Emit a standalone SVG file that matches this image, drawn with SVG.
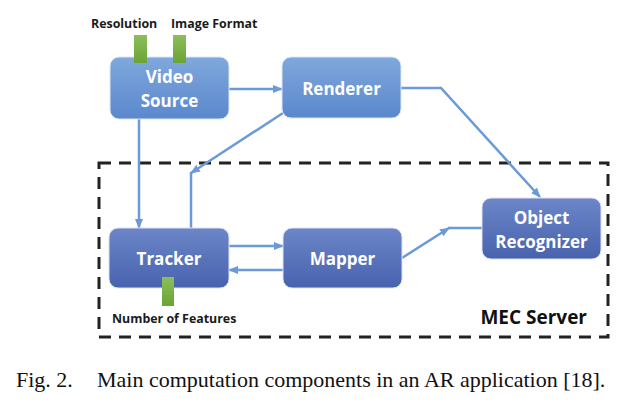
<svg xmlns="http://www.w3.org/2000/svg" width="632" height="406" viewBox="0 0 632 406">
<defs>
<linearGradient id="gLight" x1="0" y1="0" x2="0" y2="1">
<stop offset="0" stop-color="#80a8dd"/>
<stop offset="1" stop-color="#5a88cc"/>
</linearGradient>
<linearGradient id="gDark" x1="0" y1="0" x2="0" y2="1">
<stop offset="0" stop-color="#6c86c8"/>
<stop offset="1" stop-color="#4862ae"/>
</linearGradient>
<linearGradient id="gGreen" x1="0" y1="0" x2="0" y2="1">
<stop offset="0" stop-color="#8cbf5a"/>
<stop offset="1" stop-color="#6aa336"/>
</linearGradient>
<marker id="ah" markerWidth="10" markerHeight="8" refX="9" refY="4" orient="auto" markerUnits="userSpaceOnUse">
<path d="M0,0 L10,4 L0,8 Z" fill="#6a9ad8"/>
</marker>
<style>
.light{fill:url(#gLight);stroke:#dbe6f5;stroke-width:1}
.dark{fill:url(#gDark);stroke:#dbe2f2;stroke-width:1}
.lbl{font-family:"Open Sans","Liberation Sans",sans-serif;font-weight:bold;font-size:17px;fill:#ffffff;text-anchor:middle}
.param{font-family:"Open Sans","Liberation Sans",sans-serif;font-weight:bold;font-size:12.4px;fill:#1a1a1a}
.green{fill:url(#gGreen)}
.conn{fill:none;stroke:#6a9ad8;stroke-width:2.5}
.cap{font-family:"Liberation Serif","Times New Roman",serif;font-size:22px;fill:#111}
</style>
</defs>

<g id="mec-server">
<rect x="99" y="163" width="509" height="174" fill="none" stroke="#222" stroke-width="3" stroke-dasharray="12 8"/>
<text x="587" y="324" text-anchor="end" style="font-family:'Open Sans','Liberation Sans',sans-serif;font-weight:bold;font-size:19px;fill:#111">MEC Server</text>
</g>

<g id="connectors">
<line class="conn" x1="229" y1="89" x2="282" y2="89" marker-end="url(#ah)"/>
<polyline class="conn" points="401,88 441,88 540,197" marker-end="url(#ah)"/>
<line class="conn" x1="139" y1="119" x2="139" y2="228" marker-end="url(#ah)"/>
<line class="conn" x1="283" y1="113" x2="191" y2="173" marker-end="url(#ah)"/>
<line class="conn" x1="191" y1="172" x2="191" y2="228"/>
<line class="conn" x1="229" y1="246" x2="283" y2="246" marker-end="url(#ah)"/>
<line class="conn" x1="283" y1="270" x2="229" y2="270" marker-end="url(#ah)"/>
<line class="conn" x1="402" y1="258" x2="449" y2="228" marker-end="url(#ah)"/>
<line class="conn" x1="448" y1="228" x2="482" y2="228"/>
</g>

<g id="video-source">
<rect class="light" x="110" y="57" width="119" height="62" rx="9"/>
<text class="lbl" x="169.5" y="83">Video</text>
<text class="lbl" x="169.5" y="107">Source</text>
</g>

<g id="resolution">
<rect class="green" x="134" y="35" width="13" height="28"/>
<text class="param" x="91" y="28">Resolution</text>
</g>

<g id="image-format">
<rect class="green" x="173" y="35" width="13" height="28"/>
<text class="param" x="171" y="28">Image Format</text>
</g>

<g id="renderer">
<rect class="light" x="282" y="57" width="119" height="61" rx="9"/>
<text class="lbl" x="341.5" y="95">Renderer</text>
</g>

<g id="tracker">
<rect class="dark" x="109" y="228" width="120" height="60" rx="9"/>
<text class="lbl" x="169" y="265">Tracker</text>
</g>

<g id="number-of-features">
<rect class="green" x="162" y="277" width="12" height="29"/>
<text class="param" x="112" y="323">Number of Features</text>
</g>

<g id="mapper">
<rect class="dark" x="283" y="228" width="119" height="60" rx="9"/>
<text class="lbl" x="342.5" y="265">Mapper</text>
</g>

<g id="object-recognizer">
<rect class="dark" x="482" y="198" width="119" height="61" rx="9"/>
<text class="lbl" x="541.5" y="224">Object</text>
<text class="lbl" x="541.5" y="248">Recognizer</text>
</g>

<g id="caption">
<text class="cap" x="16" y="387">Fig. 2.</text>
<text class="cap" x="97" y="387">Main computation components in an AR application [18].</text>
</g>
</svg>
